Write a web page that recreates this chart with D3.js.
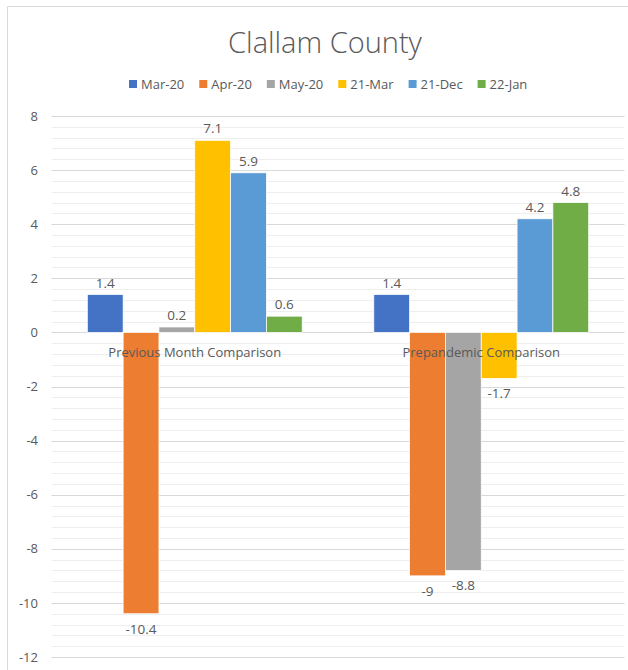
<!DOCTYPE html>
<html>
<head>
<meta charset="utf-8">
<script src="https://cdn.jsdelivr.net/npm/d3@7"></script>
<style>
  html, body { margin: 0; padding: 0; background: #fff; }
  svg { display: block; }
  text { font-family: "Open Sans", "Noto Sans", sans-serif; fill: #595959; }
</style>
</head>
<body>
<svg id="chart" width="628" height="670"></svg>
<script>
// Change in employment, by comparison type
const categories = ["Previous Month Comparison", "Prepandemic Comparison"];
const seriesNames = ["Mar-20", "Apr-20", "May-20", "21-Mar", "21-Dec", "22-Jan"];
const seriesColors = ["#4472C4", "#ED7D31", "#A5A5A5", "#FFC000", "#5B9BD5", "#70AD47"];
const previousMonth = [1.4, -10.4, 0.2, 7.1, 5.9, 0.6];
const prepandemic = [1.4, -9, -8.8, -1.7, 4.2, 4.8];
const yTicks = [-12, -10, -8, -6, -4, -2, 0, 2, 4, 6, 8];

const values = [previousMonth, prepandemic];
const data = categories.map((c, i) => ({
  category: c,
  bars: seriesNames.map((s, j) => ({ series: s, value: values[i][j], color: seriesColors[j] }))
}));

// Plain hyphen-minus for negative numbers
const fmt = v => String(v);

const svg = d3.select("#chart");

// Chart frame
svg.append("path")
  .attr("d", "M7.5,670 V6.5 H628")
  .attr("fill", "none")
  .attr("stroke", "#d9d9d9")
  .attr("stroke-width", 1);

const plot = { left: 51.5, right: 624.5, top: 116, bottom: 657 };

const y = d3.scaleLinear().domain([-12, 8]).range([plot.bottom, plot.top]);
const x = d3.scaleBand().domain(categories).range([plot.left, plot.right]);
const bw = x.bandwidth();
const xs = d3.scaleBand().domain(seriesNames).range([bw * 0.125, bw * 0.875]);

// Minor gridlines every 0.4
const minor = d3.range(0, 51).map(i => -12 + i * 0.4).filter(v => !yTicks.some(t => Math.abs(t - v) < 1e-6));
svg.append("g").selectAll("line").data(minor).join("line")
  .attr("x1", plot.left).attr("x2", plot.right)
  .attr("y1", d => Math.round(y(d)) + 0.5).attr("y2", d => Math.round(y(d)) + 0.5)
  .attr("stroke", "#eeeeee").attr("stroke-width", 1);

// Major gridlines
svg.append("g").selectAll("line").data(yTicks).join("line")
  .attr("x1", plot.left).attr("x2", plot.right)
  .attr("y1", d => Math.round(y(d)) + 0.5).attr("y2", d => Math.round(y(d)) + 0.5)
  .attr("stroke", "#d9d9d9").attr("stroke-width", 1);

// Y axis labels
const yAxis = d3.axisLeft(y).tickValues(yTicks).tickSize(0).tickPadding(0).tickFormat(fmt);
const ya = svg.append("g").attr("transform", `translate(${38},0)`).call(yAxis);
ya.select(".domain").remove();
ya.selectAll("text")
  .style("font-family", '"Open Sans", "Noto Sans", sans-serif')
  .style("font-size", "13px")
  .attr("fill", "#595959");

// Bars
const groups = svg.append("g").selectAll("g").data(data).join("g")
  .attr("transform", d => `translate(${x(d.category)},0)`);

groups.selectAll("rect").data(d => d.bars).join("rect")
  .attr("x", d => xs(d.series))
  .attr("width", xs.bandwidth())
  .attr("y", d => y(Math.max(0, d.value)))
  .attr("height", d => Math.abs(y(d.value) - y(0)))
  .attr("fill", d => d.color)
  .attr("stroke", "#ffffff")
  .attr("stroke-width", 0.75);

// Value labels
groups.selectAll("text.val").data(d => d.bars).join("text")
  .attr("class", "val")
  .attr("x", d => xs(d.series) + xs.bandwidth() / 2)
  .attr("y", d => d.value >= 0 ? y(d.value) - 7 : y(d.value) + 20)
  .attr("text-anchor", "middle")
  .style("font-size", "13.5px")
  .text(d => fmt(d.value));

// Category labels
svg.append("g").selectAll("text").data(categories).join("text")
  .attr("x", d => x(d) + bw / 2)
  .attr("y", y(0) + 25)
  .attr("text-anchor", "middle")
  .style("font-size", "13px")
  .text(d => d);

// Title
svg.append("text")
  .attr("x", 325)
  .attr("y", 53)
  .attr("text-anchor", "middle")
  .style("font-size", "29px")
  .style("font-weight", 300)
  .text("Clallam County");

// Legend
const legend = svg.append("g").attr("transform", "translate(0,84)");
let lx = 129;
seriesNames.forEach((s, i) => {
  const g = legend.append("g").attr("transform", `translate(${lx},0)`);
  g.append("rect").attr("x", 0).attr("y", -4).attr("width", 8).attr("height", 8).attr("fill", seriesColors[i]);
  const t = g.append("text").attr("x", 12).attr("y", 4.5).style("font-size", "13px").text(s);
  lx += 12 + t.node().getComputedTextLength() + 15;
});
</script>
</body>
</html>
